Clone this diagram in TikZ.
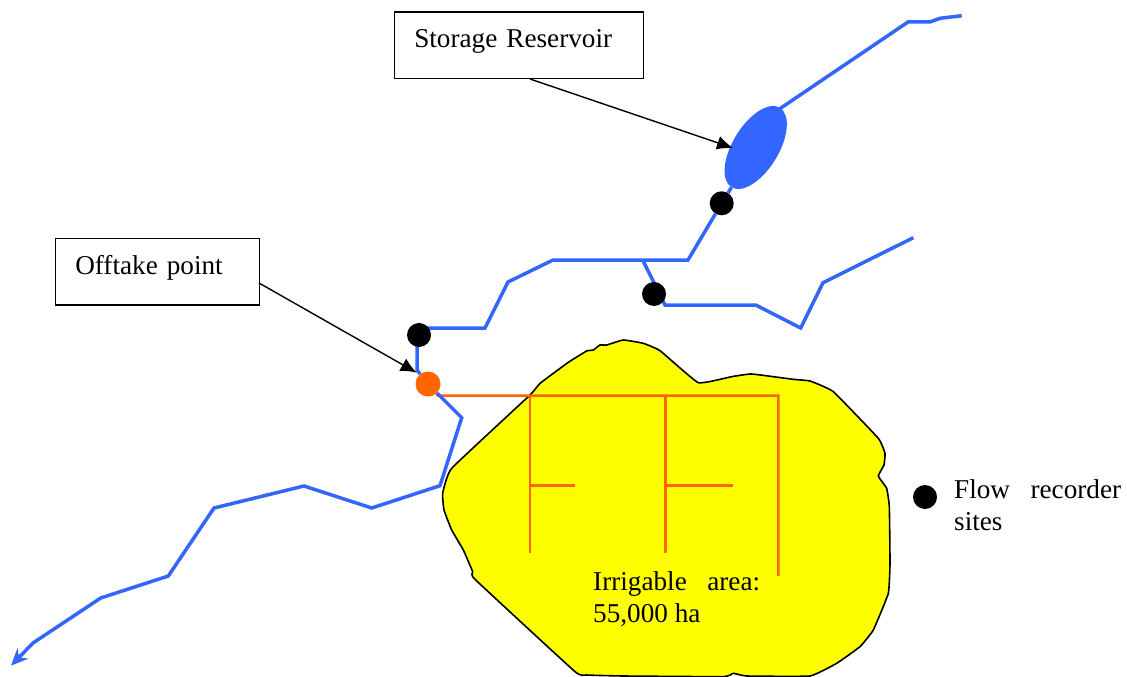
\documentclass[tikz,border=0pt]{standalone}
\usepackage{fontspec}
\setmainfont{Liberation Serif}
\usetikzlibrary{arrows.meta,shapes.geometric,backgrounds}
\definecolor{riverblue}{HTML}{3366FF}
\definecolor{canalorange}{HTML}{FF6600}
\definecolor{areayellow}{HTML}{FFFF00}
\tikzset{
  txt/.style={font=\fontsize{27.2}{32}\selectfont},
  labelbox/.style={draw=black,line width=1.5pt,fill=white,txt,anchor=north west,align=left,inner ysep=0pt,inner xsep=20pt},
  river/.style={draw=riverblue,line width=3.5pt},
  canal/.style={draw=canalorange,line width=2.5pt},
  pointer/.style={draw=black,line width=1.4pt,-{Latex[length=16pt,width=14pt]}},
  recorder/.style={circle,fill=black,inner sep=0pt,minimum size=24pt},
  offtake/.style={circle,fill=canalorange,inner sep=0pt,minimum size=25pt},
}
\begin{document}
\begin{tikzpicture}[x=1pt,y=-1pt]
\useasboundingbox (0,0) rectangle (1127,677);
% nodes
\node[labelbox,text width=209pt,text height=35pt,text depth=31.5pt] (storage) at (393.5,11.5) {Storage Reservoir};
\node[labelbox,text width=164pt,text height=36pt,text depth=30.5pt] (offbox) at (54.5,237.5) {Offtake point};
\node[ellipse,fill=riverblue,inner sep=0pt,minimum width=93pt,minimum height=46pt,rotate=58.7] (reservoir) at (755.7,147.5) {};
\node[recorder] (r1) at (721.7,203.3) {};
\node[recorder] (r2) at (654,294) {};
\node[recorder] (r3) at (419,335) {};
\node[recorder] (legend) at (925,497) {};
\node[offtake] (off) at (428,384) {};
\node[txt,anchor=north west,text width=167pt,align=justify,inner sep=0pt] (legtext) at (954,479) {Flow recorder sites};
\node[txt,anchor=north west,text width=167pt,align=justify,inner sep=0pt] (areatext) at (593,571) {Irrigable area: 55,000 ha};
% named free ends and junctions
\coordinate (srcA) at (961.7,15.7);
\coordinate (srcB) at (913.3,237.7);
\coordinate (mouth) at (11,665.7);
\coordinate (conf) at (642.7,260);
\coordinate (startS) at (530,79);
\coordinate (tipS) at (733,148);
\coordinate (startO) at (259,283);
\coordinate (tipO) at (416.7,372.7);
\coordinate (c0) at (438,395.7);
\coordinate (c1) at (530,395.7);
\coordinate (c2) at (665.3,395.7);
\coordinate (c3) at (778.3,395.7);
\coordinate (c1m) at (530,485.7);
\coordinate (c2m) at (665.3,485.7);
\coordinate (c1e) at (530,553);
\coordinate (c2e) at (665.3,553);
\coordinate (c3e) at (778.3,576);
\coordinate (c1b) at (575,485.7);
\coordinate (c2b) at (732.7,485.7);
\begin{pgfonlayer}{background}
\fill[white] (0,0) rectangle (1127,677);
% irrigable area
\begin{scope}[shift={(430,330)},x=0.33333pt,y=-0.33333pt]
\draw[black,line width=1.6pt,fill=areayellow] plot[smooth cycle,tension=0.2] coordinates {
(300,195)(330,160)(415,97)(470,63)(490,60)(510,45)(530,45)(580,30)(640,40)(690,62)
(805,158)(905,140)(965,132)(1090,148)(1140,153)(1210,185)(1345,325)(1365,370)(1362,405)(1345,438)
(1370,475)(1378,530)(1380,700)(1375,790)(1330,900)(1290,950)(1220,1000)(1140,1038)(950,1038)(910,1030)
(880,1040)(580,1038)(470,1035)(435,1025)(135,748)(128,725)(100,660)(65,600)(42,540)(38,490)(65,415)};
\end{scope}
% canals
\draw[canal] (off) -- (c0) -- (c3) -- (c3e);
\draw[canal] (c1) -- (c1e);
\draw[canal] (c2) -- (c2e);
\draw[canal] (c1m) -- (c1b);
\draw[canal] (c2m) -- (c2b);
% rivers
\draw[river] (srcA) -- (940,18.3) -- (930,22) -- (908,22) -- (775,112);
\draw[river] (reservoir) -- (r1) -- (688,260) -- (553,260) -- (508,282) -- (485,328) -- (419,328) -- (r3);
\draw[river] (417,335) -- (417,370) -- (off);
\draw[river,-{Stealth[length=17pt,width=15pt]}] (off) -- (461.7,417.7) -- (440,485.7) -- (371.7,508) -- (304,486) -- (214,508) -- (168.3,576) -- (100.7,598) -- (33,643) -- (mouth);
\draw[river] (conf) -- (665,305) -- (755.7,305) -- (800.7,328) -- (823,282.7) -- (srcB);
\end{pgfonlayer}
% pointers
\draw[pointer] (startS) -- (tipS);
\draw[pointer] (startO) -- (tipO);
\end{tikzpicture}
\end{document}
